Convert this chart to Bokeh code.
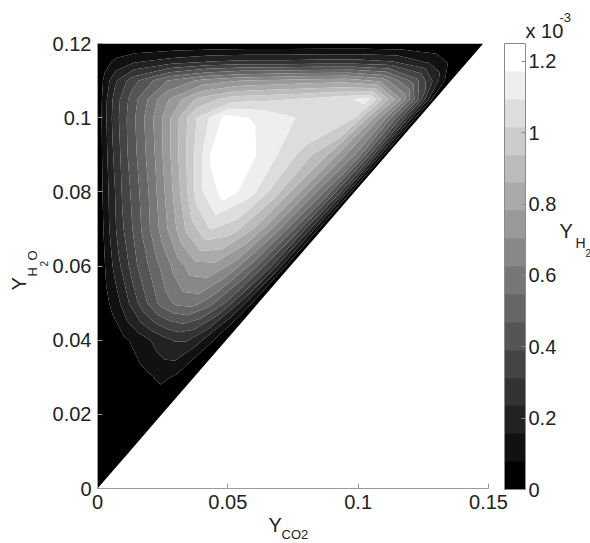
import numpy as np
from bokeh.plotting import figure
from bokeh.models import (ColorBar, LinearColorMapper, FixedTicker, Label)
from bokeh.embed import file_html
from bokeh.resources import INLINE

# ---------------- data ----------------
# rows of constant Y_H2O, columns are fractions of the way from Y_CO2 = 0
# to the diagonal boundary of the domain
y_rows = [0.0, 0.01, 0.02, 0.03, 0.04, 0.05, 0.06, 0.07, 0.08, 0.09, 0.10,
          0.105, 0.11, 0.115, 0.12]
s_cols = [0.0, 0.02, 0.05, 0.1, 0.2, 0.3, 0.4, 0.5, 0.6, 0.7, 0.8, 0.9, 0.95, 1.0]
x_diag_top = 0.148          # Y_CO2 of the diagonal boundary at Y_H2O = 0.12
y_top = 0.12

# Y_H2 values (units of 1e-3)
z_rows = [
    [0, 0, 0, 0, 0, 0, 0, 0, 0, 0, 0, 0, 0, 0],
    [0, 0, 0, 0, 0, 0, 0, 0, 0, 0, 0, 0, 0, 0],
    [0, 0, 0, 0, 0, 0, 0.01, 0.02, 0.03, 0.03, 0.02, 0.01, 0, 0],
    [0, 0, 0, 0, 0.01, 0.02, 0.04, 0.06, 0.08, 0.09, 0.07, 0.04, 0.02, 0],
    [0, 0, 0.01, 0.03, 0.06, 0.1, 0.15, 0.2, 0.24, 0.24, 0.17, 0.08, 0.04, 0],
    [0, 0.03, 0.06, 0.1, 0.24, 0.38, 0.5, 0.57, 0.58, 0.5, 0.38, 0.2, 0.1, 0],
    [0, 0.04, 0.1, 0.2, 0.38, 0.52, 0.65, 0.75, 0.76, 0.68, 0.52, 0.32, 0.17, 0],
    [0, 0.06, 0.15, 0.28, 0.48, 0.68, 0.88, 1.02, 0.98, 0.85, 0.65, 0.4, 0.22, 0],
    [0, 0.08, 0.18, 0.33, 0.55, 0.8, 1.08, 1.22, 1.12, 0.96, 0.76, 0.5, 0.3, 0],
    [0, 0.1, 0.22, 0.38, 0.63, 0.92, 1.2, 1.22, 1.12, 1.0, 0.85, 0.6, 0.35, 0],
    [0, 0.12, 0.26, 0.42, 0.7, 1.0, 1.2, 1.16, 1.1, 1.06, 1.02, 0.62, 0.36, 0],
    [0, 0.12, 0.26, 0.42, 0.68, 0.88, 0.98, 1.0, 1.02, 1.06, 1.12, 0.7, 0.4, 0],
    [0, 0.1, 0.22, 0.36, 0.55, 0.65, 0.7, 0.72, 0.74, 0.75, 0.68, 0.42, 0.22, 0],
    [0, 0.05, 0.1, 0.15, 0.2, 0.24, 0.26, 0.26, 0.27, 0.27, 0.24, 0.14, 0.07, 0],
    [0, 0, 0, 0, 0, 0, 0, 0, 0, 0, 0, 0, 0, 0],
]

x_ticks = [0, 0.05, 0.1, 0.15]
x_tick_labels = ["0", "0.05", "0.1", "0.15"]
y_ticks = [0, 0.02, 0.04, 0.06, 0.08, 0.1, 0.12]
y_tick_labels = ["0", "0.02", "0.04", "0.06", "0.08", "0.1", "0.12"]
cb_ticks = [0, 0.2, 0.4, 0.6, 0.8, 1, 1.2]
cb_tick_labels = ["0", "0.2", "0.4", "0.6", "0.8", "1", "1.2"]
z_max = 1.25
n_bands = 16

# ---------------- figure ----------------
FONT = "Liberation Sans"
W, H = 590, 543
FL, FR, FT, FB = 97, 488, 43, 488   # frame edges in canvas pixels
XR = (0, 0.15)
YR = (0, 0.12)

p = figure(width=W, height=H, x_range=XR, y_range=YR,
           output_backend="svg", toolbar_location=None,
           min_border_left=FL, min_border_right=W - FR,
           min_border_top=FT, min_border_bottom=H - FB)
p.outline_line_color = None
p.grid.visible = False
p.background_fill_color = "white"
p.border_fill_color = "white"

# curvilinear grid following the triangular domain
Y = np.array(y_rows)[:, None] * np.ones(len(s_cols))[None, :]
X = np.array(s_cols)[None, :] * (np.array(y_rows)[:, None] * x_diag_top / y_top)
Z = np.array(z_rows, dtype=float)

palette = ["#%02x%02x%02x" % (v, v, v) for v in [round(k * 255 / (n_bands - 1)) for k in range(n_bands)]]
levels = [-0.01] + [z_max * k / n_bands for k in range(1, n_bands + 1)]

cr = p.contour(X, Y, Z, levels, fill_color=palette, line_color=None)
try:
    cr.fill_renderer.glyph.line_color = cr.fill_renderer.glyph.fill_color
    cr.fill_renderer.glyph.line_width = 0.6
except Exception:
    pass

# axes
for ax, ticks, labels in ((p.xaxis, x_ticks, x_tick_labels), (p.yaxis, y_ticks, y_tick_labels)):
    ax.ticker = FixedTicker(ticks=ticks)
    ax.major_label_overrides = {t: l for t, l in zip(ticks, labels)}
    ax.axis_line_color = "#9a9a9a"
    ax.major_tick_line_color = "#9a9a9a"
    ax.major_tick_in = 5
    ax.major_tick_out = 0
    ax.minor_tick_line_color = None
    ax.major_label_text_font = FONT
    ax.major_label_text_font_size = "20px"
    ax.major_label_text_color = "#222222"
    ax.major_label_standoff = 6

# colour bar
mapper = LinearColorMapper(palette=palette, low=0, high=z_max)
cb = ColorBar(color_mapper=mapper, ticker=FixedTicker(ticks=cb_ticks),
              major_label_overrides={t: l for t, l in zip(cb_ticks, cb_tick_labels)},
              width=21, height=446, padding=0, margin=0,
              location=(504 - FL, FB - 489),
              bar_line_color="#8a8a8a", bar_line_width=1,
              major_tick_in=4, major_tick_out=0, major_tick_line_color="#8a8a8a",
              minor_tick_line_color=None,
              major_label_text_font=FONT, major_label_text_font_size="20px",
              major_label_text_color="#222222", label_standoff=3,
              background_fill_color=None, border_line_color=None)
p.add_layout(cb)


def to_data(cx, cy):
    x = XR[0] + (cx - FL) / (FR - FL) * (XR[1] - XR[0])
    y = YR[0] + (FB - cy) / (FB - FT) * (YR[1] - YR[0])
    return x, y


def lab(text, cx, cy, size, side, angle=0.0):
    # placed in data units; the side panel only hosts the label (no clipping)
    x, y = to_data(cx, cy)
    p.add_layout(Label(x=x, y=y, x_units="data", y_units="data",
                       text=text, text_font=FONT, text_font_size=size,
                       text_color="#222222", text_align="left",
                       text_baseline="middle", angle=angle), side)


# x axis label  Y_CO2
lab("Y", 268, 524, "20px", "above")
lab("CO2", 281, 534, "13px", "below")
# y axis label  Y_H2O (rotated)
lab("Y", 18, 290, "20px", "left", angle=np.pi / 2)
lab("H", 32, 276, "13px", "left", angle=np.pi / 2)
lab("2", 43, 266, "10px", "left", angle=np.pi / 2)
lab("O", 32, 260, "13px", "above", angle=np.pi / 2)
# colour bar label  Y_H2
lab("Y", 559, 230, "20px", "right")
lab("H", 575, 242, "14px", "right")
lab("2", 585, 252, "10px", "right")
# multiplier
lab("x 10", 525, 30, "20px", "right")
lab("-3", 559, 17, "13px", "right")

open("out.html", "w").write(file_html(p, INLINE))
